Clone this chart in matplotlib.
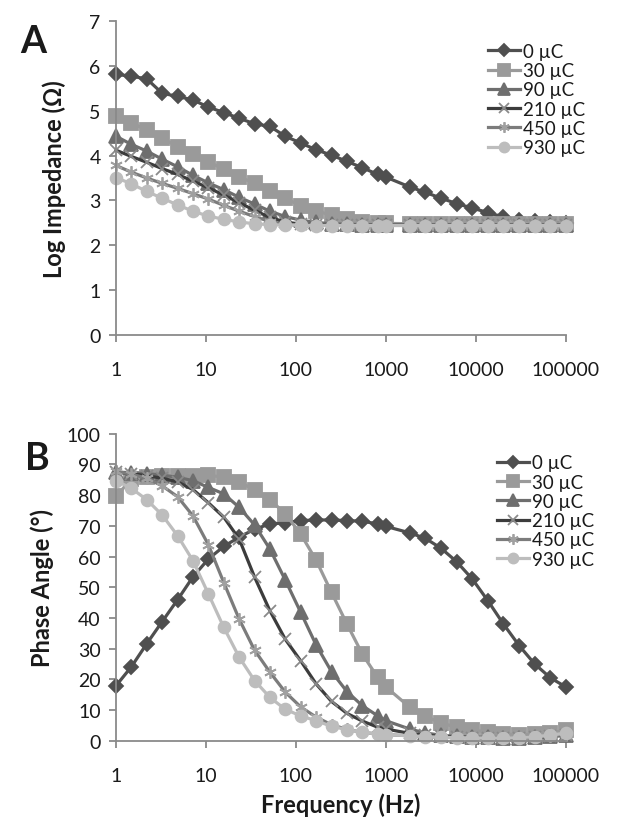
import matplotlib
matplotlib.use('Agg')
import matplotlib.pyplot as plt
from matplotlib.ticker import FixedLocator, NullLocator

plt.rcParams['font.family'] = ['Lato', 'DejaVu Sans']

# Frequency points (Hz)
freq = [1, 1.483, 2.198, 3.260, 4.831, 7.178, 10.64, 15.78, 23.39, 34.67,
        51.40, 76.21, 113.0, 167.5, 248.3, 368.9, 547.0, 810.8, 1000, 1841,
        2748, 4093, 6109, 9099, 13580, 20230, 30200, 44980, 67140, 100000]

labels = ['0 µC', '30 µC', '90 µC', '210 µC', '450 µC', '930 µC']

# Panel A: log impedance
z_0 = [5.81, 5.77, 5.71, 5.39, 5.32, 5.24, 5.08, 4.96, 4.83, 4.71,
       4.65, 4.43, 4.28, 4.13, 4.01, 3.87, 3.73, 3.58, 3.52, 3.30,
       3.18, 3.05, 2.93, 2.83, 2.73, 2.63, 2.57, 2.55, 2.52, 2.50]
z_30 = [4.88, 4.73, 4.57, 4.39, 4.20, 4.03, 3.86, 3.70, 3.53, 3.38,
        3.22, 3.05, 2.88, 2.77, 2.67, 2.59, 2.53, 2.50, 2.49, 2.48,
        2.47, 2.47, 2.47, 2.47, 2.47, 2.47, 2.47, 2.47, 2.47, 2.47]
z_90 = [4.43, 4.25, 4.10, 3.92, 3.75, 3.56, 3.39, 3.24, 3.07, 2.92,
        2.76, 2.64, 2.56, 2.51, 2.48, 2.47, 2.46, 2.46, 2.45, 2.45,
        2.45, 2.45, 2.45, 2.45, 2.45, 2.45, 2.45, 2.45, 2.45, 2.45]
z_210 = [4.12, 3.98, 3.85, 3.71, 3.58, 3.43, 3.28, 3.12, 2.95, 2.78,
         2.62, 2.52, 2.47, 2.46, 2.45, 2.45, 2.45, 2.45, 2.45, 2.45,
         2.45, 2.45, 2.45, 2.45, 2.45, 2.45, 2.45, 2.45, 2.45, 2.45]
z_450 = [3.78, 3.63, 3.50, 3.38, 3.27, 3.15, 3.03, 2.89, 2.76, 2.64,
         2.53, 2.47, 2.45, 2.45, 2.45, 2.45, 2.45, 2.45, 2.45, 2.45,
         2.45, 2.45, 2.45, 2.45, 2.45, 2.45, 2.45, 2.45, 2.45, 2.45]
z_930 = [3.51, 3.37, 3.20, 3.05, 2.90, 2.76, 2.65, 2.58, 2.52, 2.48,
         2.46, 2.45, 2.45, 2.44, 2.44, 2.44, 2.44, 2.44, 2.44, 2.44,
         2.44, 2.44, 2.44, 2.44, 2.44, 2.44, 2.44, 2.44, 2.44, 2.44]

# Panel B: phase angle
p_0 = [17.9, 24.1, 31.6, 38.8, 45.9, 53.4, 59.2, 63.3, 66.3, 68.9,
       70.6, 71.0, 71.7, 71.9, 71.9, 71.7, 71.5, 70.6, 69.8, 67.7,
       65.9, 62.7, 58.3, 52.7, 45.6, 38.0, 31.0, 25.0, 20.5, 17.5]
p_30 = [79.6, 85.2, 86.0, 86.2, 86.3, 86.3, 86.5, 85.8, 84.2, 81.8,
        78.5, 73.9, 67.3, 58.8, 48.3, 38.0, 28.2, 20.6, 17.5, 10.9,
        7.9, 5.8, 4.4, 3.6, 2.7, 2.2, 2.0, 2.1, 2.6, 3.4]
p_90 = [87.5, 87.3, 87.0, 86.5, 85.8, 84.7, 82.5, 80.4, 76.0, 70.3,
        62.4, 52.3, 41.8, 31.2, 22.5, 16.0, 11.4, 8.1, 6.5, 3.8,
        2.5, 1.8, 1.4, 1.2, 1.1, 1.0, 1.0, 1.1, 1.4, 2.0]
p_210 = [87.4, 87.0, 86.3, 85.5, 84.3, 81.8, 77.5, 72.8, 65.7, 53.3,
         42.3, 33.0, 26.0, 18.5, 12.8, 8.9, 6.4, 4.4, 3.8, 2.4,
         1.8, 1.4, 1.2, 1.0, 1.0, 0.9, 1.0, 1.1, 1.4, 2.0]
p_450 = [87.8, 86.8, 85.5, 83.0, 79.5, 73.2, 63.8, 51.5, 39.6, 29.5,
         22.3, 15.8, 11.0, 7.7, 5.2, 3.7, 2.7, 2.2, 2.0, 1.6,
         1.3, 1.1, 1.0, 0.9, 0.9, 0.9, 1.0, 1.2, 1.5, 2.0]
p_930 = [84.7, 82.2, 78.5, 73.5, 66.8, 58.6, 47.8, 36.9, 27.2, 19.6,
         14.1, 10.2, 8.1, 6.5, 4.7, 3.6, 2.7, 2.2, 2.0, 1.6,
         1.3, 1.1, 1.0, 0.9, 0.9, 0.9, 1.0, 1.3, 1.8, 2.5]

# line colour, marker, marker size, marker edge colour
styles = [
    ('#4f4f4f', 'D', 7.5, '#4f4f4f'),
    ('#9a9a9a', 's', 9.5, '#9a9a9a'),
    ('#6e6e6e', '^', 9.5, '#6e6e6e'),
    ('#3c3c3c', 'x', 8, '#8a8a8a'),
    ('#7c7c7c', (6, 2, 0), 9, '#a0a0a0'),
    ('#bdbdbd', 'o', 8.5, '#bdbdbd'),
]

GRAY = '#8a8a8a'
TXT = '#1a1a1a'


def style_axes(ax, ymax, ystep):
    ax.set_xscale('log')
    ax.set_xlim(1, 100000)
    ax.set_ylim(0, ymax)
    ax.xaxis.set_major_locator(FixedLocator([1, 10, 100, 1000, 10000, 100000]))
    ax.xaxis.set_minor_locator(NullLocator())
    ax.set_xticklabels(['1', '10', '100', '1000', '10000', '100000'])
    ax.set_yticks(range(0, ymax + 1, ystep))
    for s in ['top', 'right']:
        ax.spines[s].set_visible(False)
    for s in ['left', 'bottom']:
        ax.spines[s].set_color(GRAY)
        ax.spines[s].set_linewidth(1.3)
    ax.tick_params(axis='both', direction='out', length=5, width=1.3,
                   color=GRAY, labelsize=14, labelcolor=TXT)
    ax.tick_params(axis='x', pad=14)
    ax.tick_params(axis='y', pad=6)


def draw(ax, series):
    for y, lab, (c, m, ms, mec) in zip(series, labels, styles):
        ax.plot(freq, y, color=c, lw=2.3, marker=m, ms=ms, mfc=c, mec=mec,
                mew=1.3, label=lab, clip_on=False)


fig = plt.figure(figsize=(6.18, 8.28), dpi=100)
ax1 = fig.add_axes([0.1877, 0.5942, 0.728, 0.3792])
ax2 = fig.add_axes([0.1877, 0.1042, 0.728, 0.3708])

draw(ax1, [z_0, z_30, z_90, z_210, z_450, z_930])
draw(ax2, [p_0, p_30, p_90, p_210, p_450, p_930])
style_axes(ax1, 7, 1)
style_axes(ax2, 100, 10)

ax1.set_ylabel('Log Impedance (Ω)', fontsize=17, fontweight='bold', color=TXT, labelpad=17)
ax2.set_ylabel('Phase Angle (°)', fontsize=17, fontweight='bold', color=TXT, labelpad=9)
ax2.set_xlabel('Frequency (Hz)', fontsize=17, fontweight='bold', color=TXT, labelpad=6)

leg_kw = dict(loc='upper left', frameon=False, fontsize=13.5, borderpad=0,
              borderaxespad=0, labelspacing=0.12, handlelength=1.7,
              handletextpad=0.15, markerscale=0.85, labelcolor=TXT)
ax1.legend(bbox_to_anchor=(0.790, 0.947), bbox_transform=fig.transFigure, **leg_kw)
ax2.legend(bbox_to_anchor=(0.804, 0.450), bbox_transform=fig.transFigure, **leg_kw)

fig.text(0.054, 0.949, 'A', fontsize=27, fontweight='bold', ha='center', va='center', color=TXT)
fig.text(0.061, 0.446, 'B', fontsize=27, fontweight='bold', ha='center', va='center', color=TXT)

plt.savefig('out.png', dpi=100)
plt.close()
